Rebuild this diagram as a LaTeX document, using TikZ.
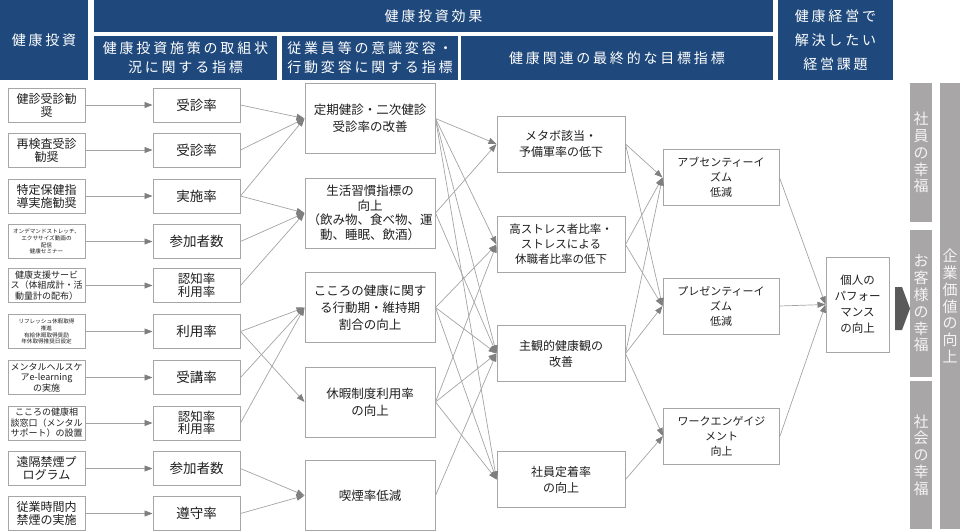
\documentclass[tikz,border=0pt]{standalone}
\usepackage{fontspec}
\setmainfont{Noto Sans CJK JP}
\newfontfamily\hdfont[LetterSpace=20]{Noto Sans CJK JP}
\usetikzlibrary{arrows.meta}
\definecolor{navy}{HTML}{1F497D}
\definecolor{boxgray}{HTML}{A6A6A6}
\definecolor{linegray}{HTML}{A3A3A3}
\definecolor{tipgray}{HTML}{7F7F7F}
\definecolor{bargray}{HTML}{A8A6A6}
\definecolor{bartext}{HTML}{F4F4F4}
\definecolor{darkarrow}{HTML}{5A5A5A}
\begin{document}
\begin{tikzpicture}[x=1pt,y=-1pt,
  hdr/.style={fill=navy, draw=none, text=white, align=center, inner sep=0pt,
    font=\hdfont\fontsize{14}{19}\selectfont},
  box/.style={draw=boxgray, line width=1pt, fill=white, align=center, inner sep=0pt, text=black!88},
  lbox/.style={box, minimum width=77pt, minimum height=34pt},
  lbig/.style={font=\fontsize{12}{13}\selectfont},
  lmid/.style={font=\fontsize{9}{10.5}\selectfont},
  ltiny/.style={font=\fontsize{5.6}{6.8}\selectfont},
  mbox/.style={box, minimum width=87pt, minimum height=34pt, font=\fontsize{13.5}{14}\selectfont},
  mtwo/.style={font=\fontsize{12.5}{12.5}\selectfont},
  cbox/.style={box, minimum width=130pt, minimum height=70pt, font=\fontsize{12.5}{17}\selectfont},
  dbox/.style={box, minimum width=128pt, minimum height=56pt, font=\fontsize{12}{16}\selectfont},
  ebox/.style={box, minimum width=116pt, minimum height=56pt, font=\fontsize{11}{15}\selectfont},
  bar/.style={fill=bargray, draw=none, text=bartext, align=center, inner sep=0pt,
    font=\fontsize{15}{16.8}\selectfont},
  conn/.style={draw=linegray, line width=0.7pt, -{Triangle[length=8pt,width=6pt,color=tipgray]}}
]
\useasboundingbox (0,0) rectangle (960,531);

% headers
\node[hdr, minimum width=88pt, minimum height=80pt] (H0) at (44,40) {健康投資};
\node[hdr, minimum width=679pt, minimum height=32pt] (H1) at (433.5,16) {健康投資効果};
\node[hdr, minimum width=183pt, minimum height=44pt] (H2) at (185.5,58) {健康投資施策の取組状\\況に関する指標};
\node[hdr, minimum width=176pt, minimum height=44pt] (H3) at (370,58) {従業員等の意識変容・\\行動変容に関する指標};
\node[hdr, minimum width=312pt, minimum height=44pt] (H4) at (617,58) {健康関連の最終的な目標指標};
\node[hdr, minimum width=115pt, minimum height=80pt, font=\hdfont\fontsize{14}{24}\selectfont] (H5) at (835.5,40) {健康経営で\\解決したい\\経営課題};

% left column
\node[lbox, lbig] (L1) at (46.5,105) {健診受診勧\\奨};
\node[lbox, lbig] (L2) at (46.5,150) {再検査受診\\勧奨};
\node[lbox, lbig] (L3) at (46.5,196) {特定保健指\\導実施勧奨};
\node[lbox, ltiny] (L4) at (46.5,241.5) {オンデマンドストレッチ、\\エクササイズ動画の\\配信\\健康セミナー};
\node[lbox, lmid] (L5) at (46.5,285.5) {健康支援サービ\\ス（体組成計・活\\動量計の配布）};
\node[lbox, ltiny] (L6) at (46.5,331.5) {リフレッシュ休暇取得\\推進\\有給休暇取得奨励\\年休取得推奨日設定};
\node[lbox, lmid] (L7) at (46.5,377.5) {メンタルヘルスケ\\アe-learning\\の実施};
\node[lbox, lmid] (L8) at (46.5,423) {こころの健康相\\談窓口（メンタル\\サポート）の設置};
\node[lbox, lbig] (L9) at (46.5,468.5) {遠隔禁煙プ\\ログラム};
\node[lbox, lbig] (L10) at (46.5,513.5) {従業時間内\\禁煙の実施};

% second column
\node[mbox] (M1) at (196.5,105) {受診率};
\node[mbox] (M2) at (196.5,150) {受診率};
\node[mbox] (M3) at (196.5,196) {実施率};
\node[mbox] (M4) at (196.5,241.5) {参加者数};
\node[mbox, mtwo] (M5) at (196.5,285.5) {認知率\\利用率};
\node[mbox] (M6) at (196.5,331.5) {利用率};
\node[mbox] (M7) at (196.5,377.5) {受講率};
\node[mbox, mtwo] (M8) at (196.5,423) {認知率\\利用率};
\node[mbox] (M9) at (196.5,468.5) {参加者数};
\node[mbox] (M10) at (196.5,513.5) {遵守率};

% third column
\node[cbox] (C1) at (370,118.5) {定期健診・二次健診\\受診率の改善};
\node[cbox, font=\fontsize{12.5}{14.5}\selectfont] (C2) at (370,213) {生活習慣指標の\\向上\\（飲み物、食べ物、運\\動、睡眠、飲酒）};
\node[cbox] (C3) at (370,307.5) {こころの健康に関す\\る行動期・維持期\\割合の向上};
\node[cbox] (C4) at (370,402) {休暇制度利用率\\の向上};
\node[cbox] (C5) at (370,495.5) {喫煙率低減};

% fourth column
\node[dbox] (D1) at (561,144) {メタボ該当・\\予備軍率の低下};
\node[dbox, font=\fontsize{11.5}{15}\selectfont] (D2) at (561,244.5) {高ストレス者比率・\\ストレスによる\\休職者比率の低下};
\node[dbox] (D3) at (561,353.5) {主観的健康観の\\改善};
\node[dbox] (D4) at (561,479.5) {社員定着率\\の向上};

% fifth column
\node[ebox] (E1) at (721,177.5) {アブセンティーイ\\ズム\\低減};
\node[ebox] (E2) at (721,306) {プレゼンティーイ\\ズム\\低減};
\node[ebox] (E3) at (721.5,436) {ワークエンゲイジ\\メント\\向上};

% performance
\node[box, minimum width=63pt, minimum height=95pt, font=\fontsize{11.5}{16}\selectfont] (F) at (857.5,304.5) {個人の\\パフォー\\マンス\\の向上};

% dark arrow
\fill[darkarrow] (895,287) -- (902,287) -- (910,308.5) -- (902,330) -- (895,330) -- cycle;

% grey bars
\node[bar, minimum width=22pt, minimum height=139pt] (G1) at (921,152.5) {社\\員\\の\\幸\\福};
\node[bar, minimum width=22pt, minimum height=147pt] (G2) at (921,303.5) {お\\客\\様\\の\\幸\\福};
\node[bar, minimum width=22pt, minimum height=148pt] (G3) at (921,455) {社\\会\\の\\幸\\福};
\node[bar, minimum width=20pt, minimum height=446pt] (G4) at (950,306) {企\\業\\価\\値\\の\\向\\上};

% connectors: left -> second
\foreach \i in {1,...,10} \draw[conn] (L\i.east) -- (M\i.west);

% second -> third
\foreach \a/\b in {M1/C1, M2/C1, M3/C1, M3/C2, M4/C2, M5/C2, M6/C3, M6/C4, M7/C3, M8/C3, M9/C5, M10/C5}
  \draw[conn] (\a.east) -- (\b.west);

% third -> fourth
\foreach \a/\b in {C1/D1, C1/D2, C1/D3, C1/D4, C2/D1, C2/D3, C3/D2, C3/D3, C3/D4, C4/D2, C4/D3, C4/D4, C5/D3}
  \draw[conn] (\a.east) -- (\b.west);

% fourth -> fifth
\foreach \a/\b in {D1/E1, D1/E2, D2/E1, D2/E2, D3/E1, D3/E2, D3/E3, D4/E3}
  \draw[conn] (\a.east) -- (\b.west);

% fifth -> performance
\foreach \a in {E1, E2, E3}
  \draw[conn] (\a.east) -- (F.west);
\end{tikzpicture}
\end{document}
